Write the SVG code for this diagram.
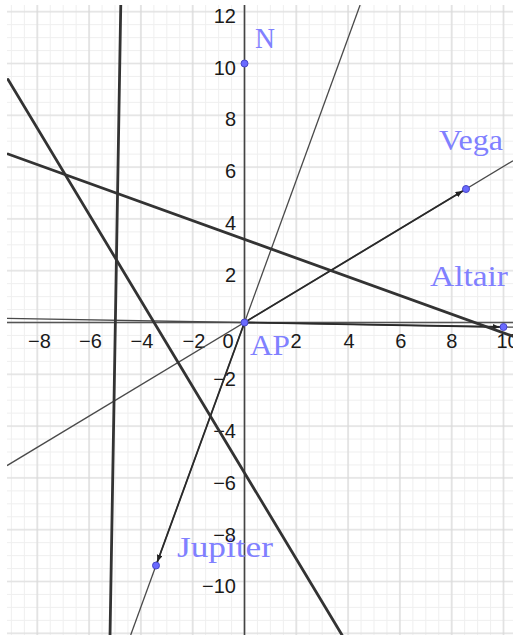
<svg xmlns="http://www.w3.org/2000/svg" width="513" height="635" viewBox="0 0 513 635">
<style>
.tick{font-family:"Liberation Sans",Arial,sans-serif;font-size:20px;fill:#1a1a1a}
.lbl{font-family:"Liberation Serif","Times New Roman",serif;font-size:29px;fill:#8080ff}
.pt{fill:#6a6aff;stroke:#4646c8;stroke-width:1}
.thick{stroke:#333;stroke-width:2.8;fill:none;stroke-linecap:round}
.thin{stroke:#4a4a4a;stroke-width:1.3;fill:none}
.vec{stroke:#2a2a2a;stroke-width:1.8;fill:none}
</style>
<defs>
<pattern id="minor" patternUnits="userSpaceOnUse" x="238.025" y="316.025" width="12.95" height="12.95">
<path d="M6.475 0V12.95M0 6.475H12.95" stroke="#efefef" stroke-width="1" fill="none"/>
</pattern>
<pattern id="major" patternUnits="userSpaceOnUse" x="218.6" y="296.6" width="51.8" height="51.8">
<path d="M25.9 0V51.8M0 25.9H51.8" stroke="#d9d9d9" stroke-width="1.2" fill="none"/>
</pattern>
<clipPath id="plot"><rect x="7" y="5" width="506" height="630"/></clipPath>
<marker id="arr" markerUnits="userSpaceOnUse" markerWidth="10" markerHeight="8" refX="11" refY="3" orient="auto">
<path d="M0 0L7 3L0 6Z" fill="#222"/>
</marker>
</defs>
<rect width="513" height="635" fill="#fff"/>
<rect x="7" y="5" width="506" height="630" fill="url(#minor)"/>
<rect x="7" y="5" width="506" height="630" fill="url(#major)"/>
<g id="axes">
<line x1="7" y1="322.5" x2="513" y2="322.5" stroke="#555" stroke-width="1.3"/>
<line x1="244.5" y1="5" x2="244.5" y2="635" stroke="#444" stroke-width="1.6"/>
</g>
<g id="ticks" class="tick">
<text x="39.5" y="348" text-anchor="middle">−8</text>
<text x="90.5" y="348" text-anchor="middle">−6</text>
<text x="142" y="348" text-anchor="middle">−4</text>
<text x="194" y="348" text-anchor="middle">−2</text>
<text x="228" y="348" text-anchor="middle">0</text>
<text x="296" y="348" text-anchor="middle">2</text>
<text x="349" y="348" text-anchor="middle">4</text>
<text x="400.7" y="348" text-anchor="middle">6</text>
<text x="451.7" y="348" text-anchor="middle">8</text>
<text x="496.5" y="348">10</text>
<text x="236" y="23" text-anchor="end">12</text>
<text x="236" y="74.5" text-anchor="end">10</text>
<text x="236" y="126" text-anchor="end">8</text>
<text x="236" y="178" text-anchor="end">6</text>
<text x="236" y="230" text-anchor="end">4</text>
<text x="236" y="282" text-anchor="end">2</text>
<text x="236" y="386" text-anchor="end">−2</text>
<text x="236" y="438" text-anchor="end">−4</text>
<text x="236" y="489.5" text-anchor="end">−6</text>
<text x="236" y="541.5" text-anchor="end">−8</text>
<text x="236" y="593" text-anchor="end">−10</text>
</g>
<g id="connectors" clip-path="url(#plot)">
<line class="thin" x1="360.1" y1="5" x2="130.7" y2="635"/>
<line class="thin" x1="7" y1="465.6" x2="513" y2="160.7"/>
<line class="thin" x1="7" y1="318.4" x2="513" y2="327.2"/>
<line class="vec" x1="244.5" y1="322.5" x2="156" y2="565.5" marker-end="url(#arr)"/>
<line class="vec" x1="244.5" y1="322.5" x2="466" y2="189" marker-end="url(#arr)"/>
<line class="vec" x1="244.5" y1="322.5" x2="503.5" y2="327" marker-end="url(#arr)"/>
<line class="thick" x1="120.8" y1="3" x2="110" y2="637"/>
<line class="thick" x1="8" y1="79.5" x2="342" y2="635"/>
<line class="thick" x1="8" y1="154" x2="513" y2="336.3"/>
</g>
<g id="N">
<circle class="pt" cx="244.5" cy="63.5" r="3.5"/>
<text class="lbl" x="255" y="48" textLength="20" lengthAdjust="spacingAndGlyphs">N</text>
</g>
<g id="Vega">
<circle class="pt" cx="466" cy="189" r="3.5"/>
<text class="lbl" x="439" y="150" textLength="64" lengthAdjust="spacingAndGlyphs">Vega</text>
</g>
<g id="Altair">
<circle class="pt" cx="503.5" cy="327" r="3.5"/>
<text class="lbl" x="430" y="286" textLength="78" lengthAdjust="spacingAndGlyphs">Altair</text>
</g>
<g id="AP">
<circle class="pt" cx="244.5" cy="322.5" r="3.5"/>
<text class="lbl" x="250" y="355" textLength="40" lengthAdjust="spacingAndGlyphs">AP</text>
</g>
<g id="Jupiter">
<circle class="pt" cx="156" cy="565.5" r="3.5"/>
<text class="lbl" x="177" y="557" textLength="96" lengthAdjust="spacingAndGlyphs">Jupiter</text>
</g>
</svg>
